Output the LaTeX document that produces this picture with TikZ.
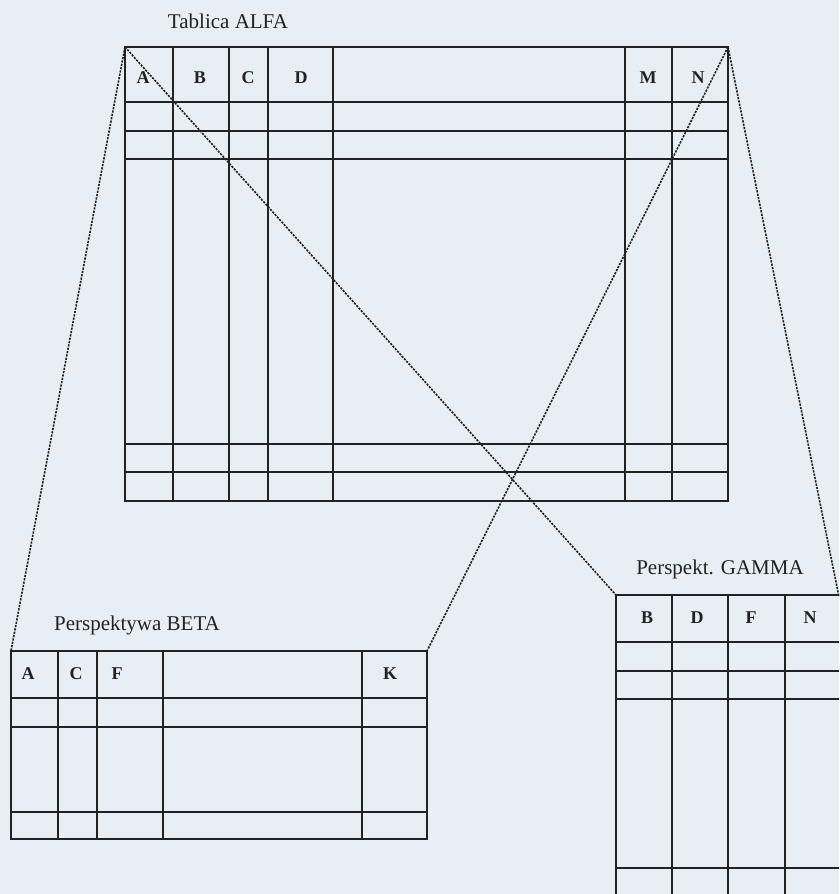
\documentclass[tikz,border=0pt]{standalone}
\usepackage{fontspec}
\setmainfont{Liberation Serif}
\definecolor{paper}{HTML}{E7EEF4}
\definecolor{ink}{HTML}{222222}
\begin{document}
\begin{tikzpicture}[x=1pt,y=-1pt,
  grid/.style={draw=ink,line width=1.3pt},
  proj/.style={draw=ink,line width=1.6pt,dash pattern=on 2.2pt off 1.2pt},
  title/.style={font=\fontsize{21}{24}\selectfont,text=ink,inner sep=0pt},
  colname/.style={font=\fontsize{18}{20}\selectfont\bfseries,text=ink,inner sep=0pt}]
\fill[paper] (0,0) rectangle (839,894);
\useasboundingbox (0,0) rectangle (839,894);
% ---------- Tablica ALFA ----------
\node[title] (talfa) at (228,21) {Tablica ALFA};
\coordinate (aTL) at (125,47);
\coordinate (aTR) at (728,47);
\draw[grid] (aTL) rectangle (728,501);
\foreach \y in {102,131,159,444,472} \draw[grid] (125,\y) -- (728,\y);
\foreach \x in {173,229,268,333,625,672} \draw[grid] (\x,47) -- (\x,501);
\node[colname] (aA) at (143,78) {A};
\node[colname] (aB) at (200,78) {B};
\node[colname] (aC) at (248,78) {C};
\node[colname] (aD) at (301,78) {D};
\node[colname] (aM) at (648,78) {M};
\node[colname] (aN) at (698,78) {N};
% ---------- Perspektywa BETA ----------
\node[title] (tbeta) at (137,625) {Perspektywa BETA};
\coordinate (bTL) at (11,651);
\coordinate (bTR) at (427,651);
\draw[grid] (bTL) rectangle (427,839);
\foreach \y in {698,727,812} \draw[grid] (11,\y) -- (427,\y);
\foreach \x in {58,97,163,362} \draw[grid] (\x,651) -- (\x,839);
\node[colname] (bA) at (28,674) {A};
\node[colname] (bC) at (76,674) {C};
\node[colname] (bF) at (117,674) {F};
\node[colname] (bK) at (390,674) {K};
% ---------- Perspekt. GAMMA ----------
\node[title] (tgamma) at (720,569) {Perspekt. GAMMA};
\coordinate (gTL) at (616,595);
\coordinate (gTR) at (839,597);
\draw[grid] (839,595) -- (gTL) -- (616,894);
\foreach \y in {642,671,699,868} \draw[grid] (616,\y) -- (839,\y);
\foreach \x in {672,728,785} \draw[grid] (\x,595) -- (\x,894);
\node[colname] (gB) at (647,618) {B};
\node[colname] (gD) at (697,618) {D};
\node[colname] (gF) at (751,618) {F};
\node[colname] (gN) at (810,618) {N};
% ---------- projection lines ----------
\draw[proj] (aTL) -- (bTL);
\draw[proj] (aTL) -- (gTL);
\draw[proj] (aTR) -- (bTR);
\draw[proj] (aTR) -- (gTR);
\end{tikzpicture}
\end{document}
